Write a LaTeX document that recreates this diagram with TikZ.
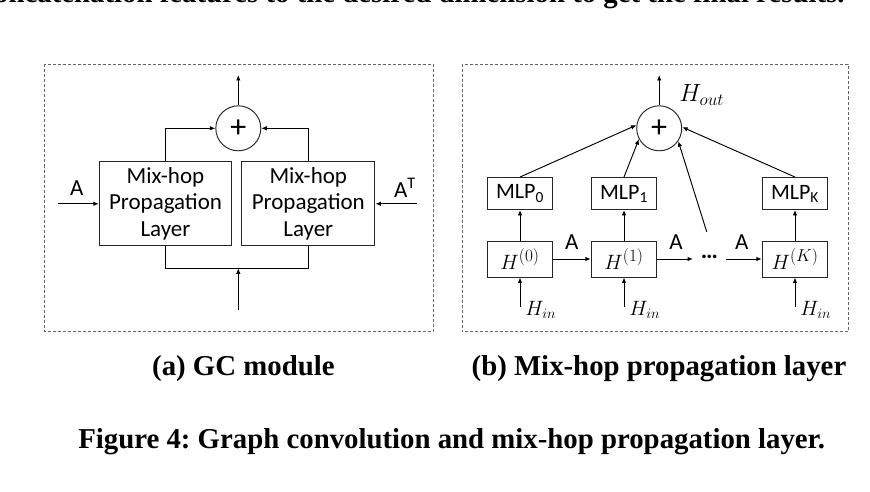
\documentclass[tikz,border=0pt]{standalone}
\usepackage[no-math]{fontspec}
\setmainfont{Liberation Serif}
\newfontfamily\cali{Carlito}
\usetikzlibrary{arrows.meta}
\newcommand\hsupx[1]{$H^{\hbox{\fontsize{17.5}{17.5}\selectfont$(#1)$}}$}
\begin{document}
\frenchspacing
\begin{tikzpicture}[x=1pt,y=-1pt,
  line width=0.95pt,
  arr/.style={-{Latex[length=5.5pt,width=4.5pt]}},
  blk/.style={draw=black!85, inner sep=0pt, align=center, font=\cali\fontsize{23}{26.5}\selectfont},
  mbox/.style={draw=black!85, inner sep=0pt, minimum width=65.5pt, minimum height=32pt, font=\cali\fontsize{22}{22}\selectfont},
  hbox/.style={draw=black!85, inner sep=0pt, minimum width=65.5pt, minimum height=36pt, font=\fontsize{22}{22}\selectfont},
  sumnode/.style={draw=black!85, circle, minimum size=45pt, inner sep=0pt, font=\cali\fontsize{32}{32}\selectfont},
  frm/.style={draw=black!60, dash pattern=on 3pt off 2pt, line width=0.9pt},
  lbl/.style={font=\cali\fontsize{23}{23}\selectfont, inner sep=0pt},
  mth/.style={font=\fontsize{22}{22}\selectfont, inner sep=0pt},
  captxt/.style={font=\bfseries\fontsize{28.8}{28.8}\selectfont, inner sep=0pt, anchor=base},
]
\useasboundingbox (0,0) rectangle (870,492);
\begin{scope}
\clip (0,0) rectangle (870,492);
\node[captxt, anchor=base east] (top) at (845,3) {concatenation features to the desired dimension to get the final results.};
\end{scope}

% frames
\draw[frm] (44.5,64.5) rectangle (433,331.5);
\draw[frm] (462,64.5) rectangle (848,331.5);

% (a) GC module
\node[sumnode] (S1) at (238.3,128.3) {+};
\node[blk, minimum width=132.4pt, minimum height=84.3pt] (L1) at (165.5,203.8) {Mix-hop\\Propagation\\Layer};
\node[blk, minimum width=133.3pt, minimum height=84.3pt] (L2) at (308.3,203.8) {Mix-hop\\Propagation\\Layer};
\coordinate (O1) at (238.3,75);
\draw[arr] (S1) -- (O1);
\draw[arr] (L1.north) |- (S1);
\draw[arr] (L2.north) |- (S1);
\coordinate (J1) at (238.3,268.3);
\draw (L1.south) |- (J1) -| (L2.south);
\coordinate (I1) at (238.3,310);
\draw[arr] (I1) -- (J1);
\coordinate (A1) at (58,203.8);
\draw[arr] (A1) -- (L1);
\node[lbl] (tA1) at (76.7,188) {A};
\coordinate (A2) at (416.7,203.8);
\draw[arr] (A2) -- (L2);
\node[lbl] (tA2) at (405,188) {A\textsuperscript{T}};

% (b) Mix-hop propagation layer
\node[sumnode] (S2) at (659.2,128.3) {+};
\coordinate (O2) at (659.2,75);
\draw[arr] (S2) -- (O2);
\node[mth, anchor=base west, font=\fontsize{23}{23}\selectfont] (Hout) at (679,101.7) {$H_{out}$};

\node[mbox] (M0) at (520,193.5) {MLP\textsubscript{0}};
\node[mbox] (M1) at (624,193.5) {MLP\textsubscript{1}};
\node[mbox] (MK) at (795,193.5) {MLP\textsubscript{K}};
\node[hbox] (H0) at (520,259) {\hsupx{0}};
\node[hbox] (H1) at (624,259) {\hsupx{1}};
\node[hbox] (HK) at (795,259) {\hsupx{K}};
\node[inner sep=0pt, minimum width=32pt, font=\cali\bfseries\fontsize{24}{24}\selectfont] (D) at (709.5,257) {…};

\draw[arr] (H0) -- (M0);
\draw[arr] (H1) -- (M1);
\draw[arr] (HK) -- (MK);
\draw[arr] (H0) -- (H1);
\draw[arr] (H1) -- (D.west |- H1.east);
\draw[arr] (D.east |- HK.west) -- (HK);
\node[lbl] (tB1) at (571.7,242) {A};
\node[lbl] (tB2) at (676,242) {A};
\node[lbl] (tB3) at (741.7,242) {A};

\draw[arr] (M0.north) -- (S2.172);
\draw[arr] (M1.north) -- (S2.208);
\coordinate (Dt) at (706.7,231.7);
\draw[arr] (Dt) -- (S2.-34);
\draw[arr] (MK.north) -- (S2.3);

\coordinate (I0) at (520,306.7);
\coordinate (I1b) at (624,306.7);
\coordinate (IK) at (795,306.7);
\draw[arr] (I0) -- (H0);
\draw[arr] (I1b) -- (H1);
\draw[arr] (IK) -- (HK);
\node[mth, anchor=base west] (hi0) at (525,315.5) {$H_{in}$};
\node[mth, anchor=base west] (hi1) at (629,315.5) {$H_{in}$};
\node[mth, anchor=base west] (hiK) at (800,315.5) {$H_{in}$};

% captions
\node[captxt] (c1) at (243.4,375) {(a) GC module};
\node[captxt] (c2) at (659,375) {(b) Mix-hop propagation layer};
\node[captxt] (c3) at (451.7,448.3) {Figure 4: Graph convolution and mix-hop propagation layer.};
\end{tikzpicture}
\end{document}
